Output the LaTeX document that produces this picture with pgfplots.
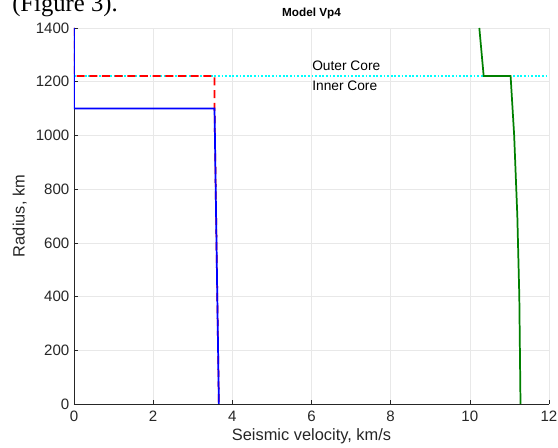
\documentclass[border=0pt]{standalone}
\usepackage{pgfplots}
\pgfplotsset{compat=1.18}
\usepackage{fontspec}
\setmainfont{Liberation Sans}
\newfontfamily\seriffont{Liberation Serif}
\definecolor{mgreen}{rgb}{0,0.5,0}
\definecolor{mcyan}{rgb}{0,1,1}
\definecolor{axgray}{HTML}{262626}

\begin{document}
\begin{tikzpicture}
\useasboundingbox (-55.5pt,-33pt) rectangle (363pt,303pt);
% cropped caption text from the page above the figure
\node[anchor=base west, inner sep=0pt, font=\seriffont\fontsize{18.5}{20}\selectfont]
  at (-46.5pt,294pt) {(Figure 3).};
\begin{axis}[
    at={(0,0)}, anchor=south west,
    scale only axis,
    width=356.25pt, height=282pt,
    xmin=0, xmax=12, ymin=0, ymax=1400,
    xtick={0,2,...,12}, ytick={0,200,...,1400},
    axis x line*=bottom, axis y line*=left,
    axis line style={axgray, line width=0.5pt},
    tick style={axgray, line width=0.5pt},
    tick align=inside,
    major tick length=3pt,
    grid=major,
    grid style={gray!18, line width=0.4pt},
    tick label style={font=\fontsize{11.3}{13}\selectfont, text=axgray},
    xticklabel style={yshift=-2pt},
    /pgf/number format/assume math mode=true,
    /pgf/number format/1000 sep={},
    xlabel={Seismic velocity, km/s},
    ylabel={Radius, km},
    label style={font=\fontsize{12.3}{14}\selectfont, text=axgray},
    xlabel style={yshift=2pt},
    ylabel style={yshift=0pt},
    title={\textbf{Model Vp4}},
    title style={font=\fontsize{8.8}{10}\selectfont, yshift=-3pt},
]
% boundary line
\addplot[mcyan, line width=1.8pt, dash pattern=on 1.3pt off 1.4pt] coordinates {(0,1221) (12,1221)};
% red dashed model
\addplot[red, line width=1.3pt, dash pattern=on 6pt off 3.5pt] coordinates {
    (0,1400) (0,1221) (3.55,1221) (3.55,1100) (3.58,800) (3.62,400) (3.66,0)
};
% blue model
\addplot[blue, line width=1.3pt] coordinates {
    (0,1400) (0,1100) (3.55,1100) (3.58,800) (3.62,400) (3.66,0)
};
% green model
\addplot[mgreen, line width=1.3pt] coordinates {
    (10.24,1400) (10.35,1221) (11.03,1221) (11.12,1000) (11.2,700) (11.25,400) (11.28,0)
};
\node[anchor=south west, font=\fontsize{10.3}{12}\selectfont, inner sep=1pt] at (axis cs:5.98,1236) {Outer Core};
\node[anchor=north west, font=\fontsize{10.3}{12}\selectfont, inner sep=1pt] at (axis cs:5.98,1208) {Inner Core};
\end{axis}
\end{tikzpicture}
\end{document}
